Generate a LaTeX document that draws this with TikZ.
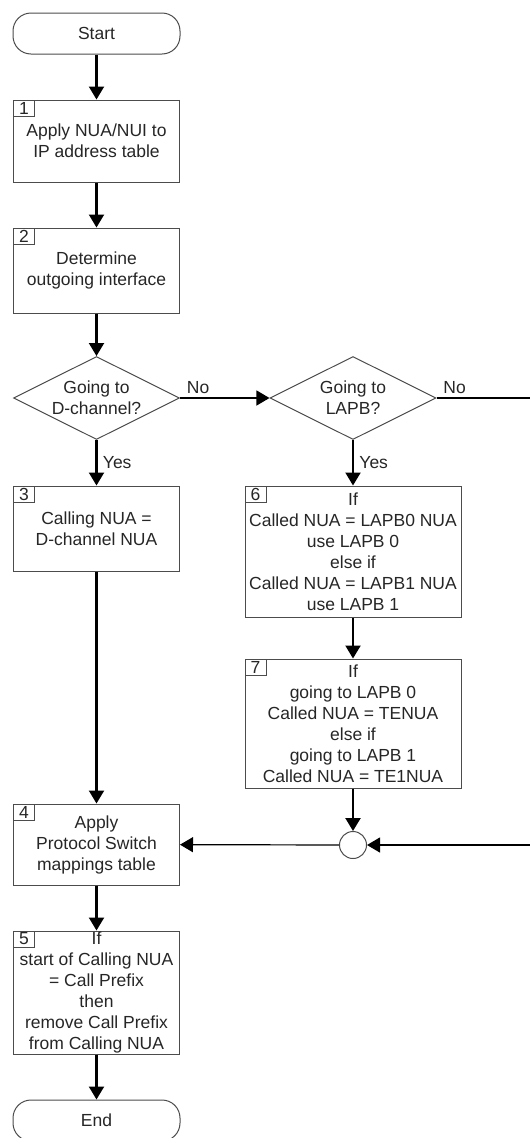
\documentclass[tikz,border=0pt]{standalone}
\usepackage{fontspec}
\setmainfont{Liberation Sans}
\usetikzlibrary{shapes.geometric,arrows.meta}

\begin{document}
\begin{tikzpicture}[x=1pt,y=-1pt,
  every node/.style={font=\fontsize{17.5}{21}\selectfont,text=black!85},
  term/.style={draw=black!70,line width=1pt,rounded corners=18pt,minimum width=167,minimum height=41},
  box/.style={draw=black!70,line width=1pt,align=center,inner sep=0pt,minimum width=166},
  wide/.style={box,minimum width=216},
  numbox/.style={draw=black!70,line width=1pt,inner sep=0pt,minimum width=21,minimum height=16,anchor=north west},
  test/.style={diamond,draw=black!70,line width=1pt,align=center,inner sep=0pt,aspect=2,minimum width=166,minimum height=83},
  flow/.style={draw=black,line width=2.2pt,-{Triangle[length=13pt,width=15pt]}},
  side/.style={flow,line width=1.2pt}]
  \clip (0,0) rectangle (530,1138);

  \node[term] (Start) at (96.5,33.5) {Start};
  \node[box,minimum height=82] (B1) at (96.5,141) {Apply NUA/NUI to\\IP address table};
  \node[numbox] (N1) at (B1.north west) {1};
  \node[box,minimum height=85] (B2) at (96.5,270.5) {Determine\\outgoing interface};
  \node[numbox] (N2) at (B2.north west) {2};
  \node[test] (D1) at (96.5,398) {Going to\\D-channel?};
  \node[test] (D2) at (353,398) {Going to\\LAPB?};
  \node[box,minimum height=85] (B3) at (96.5,528.5) {Calling NUA =\\D-channel NUA};
  \node[numbox] (N3) at (B3.north west) {3};
  \node[wide,minimum height=131] (B6) at (353,551.5) {If\\Called NUA = LAPB0 NUA\\use LAPB 0\\else if\\Called NUA = LAPB1 NUA\\use LAPB 1};
  \node[numbox] (N6) at (B6.north west) {6};
  \node[wide,minimum height=129] (B7) at (353,723.5) {If\\going to LAPB 0\\Called NUA = TENUA\\else if\\going to LAPB 1\\Called NUA = TE1NUA};
  \node[numbox] (N7) at (B7.north west) {7};
  \node[circle,draw=black!70,line width=1pt,minimum size=27,inner sep=0pt] (J) at (353,845) {};
  \node[box,minimum height=81] (B4) at (96.5,844.5) {Apply\\Protocol Switch\\mappings table};
  \node[numbox] (N4) at (B4.north west) {4};
  \node[box,minimum height=123] (B5) at (96.5,992.5) {If\\start of Calling NUA\\= Call Prefix\\then\\remove Call Prefix\\from Calling NUA};
  \node[numbox] (N5) at (B5.north west) {5};
  \node[term] (End) at (96.5,1120.5) {End};

  \coordinate (Out) at (530,398);
  \coordinate (Back) at (530,845);

  \draw[flow] (Start) -- (B1);
  \draw[flow] (B1) -- (B2);
  \draw[flow] (B2) -- (D1);
  \draw[flow] (D1) -- node[right,xshift=2]{Yes} (B3);
  \draw[side] (D1) -- node[pos=0,anchor=south west,xshift=3]{No} (D2);
  \draw[side,-] (D2) -- node[pos=0,anchor=south west,xshift=3]{No} (Out);
  \draw[flow] (D2) -- node[right,xshift=2]{Yes} (B6);
  \draw[flow] (B6) -- (B7);
  \draw[flow] (B7) -- (J);
  \draw[side] (Back) -- (J);
  \draw[side] (J) -- (B4);
  \draw[flow] (B3) -- (B4);
  \draw[flow] (B4) -- (B5);
  \draw[flow] (B5) -- (End);
\end{tikzpicture}
\end{document}
